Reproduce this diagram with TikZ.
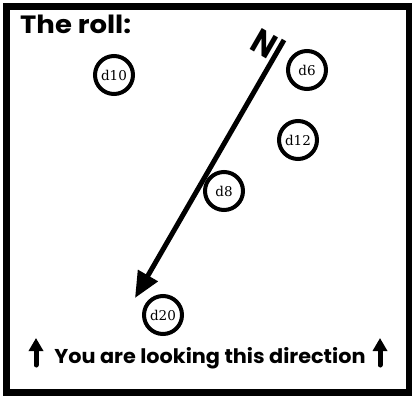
\documentclass[tikz,border=0pt]{standalone}
\usepackage{fontspec}
\setmainfont{DejaVu Serif}
\newfontfamily\comicfont{Poppins}
\usetikzlibrary{arrows.meta}
\begin{document}
\begin{tikzpicture}[x=1pt,y=-1pt,
  die/.style={circle,draw,line width=4pt,minimum size=38pt,inner sep=0pt,font=\fontsize{13.5}{16}\selectfont},
  title/.style={font=\comicfont\bfseries\fontsize{25}{30}\selectfont,inner sep=0pt},
  caption/.style={font=\comicfont\bfseries\fontsize{20}{24}\selectfont,inner sep=0pt},
  bigarrow/.style={line width=5pt,-{Triangle[length=26pt,width=22pt]}},
  lookarrow/.style={line width=5pt,line cap=round,-{Triangle[length=13pt,width=14pt]}}]
\useasboundingbox (0,0) rectangle (412,396);
\draw[line width=6.5pt] (6.5,6.5) rectangle (409.5,392.5);
\node[title,anchor=base west,xscale=1.1] (title) at (20,34) {The roll:};
\node[die] (d10) at (114,75) {d10};
\node[die] (d6) at (307,70) {d6};
\node[die] (d12) at (298,140) {d12};
\node[die] (d8) at (224,191) {d8};
\node[die] (d20) at (163,315) {d20};
\coordinate (ntop) at (284,40);
\coordinate (ntip) at (135,298);
\draw[bigarrow] (ntop) -- (ntip);
\node[inner sep=0pt,rotate=-30,yscale=1.15,font=\comicfont\bfseries\fontsize{30}{34}\selectfont] (north) at (264,44) {N};
\node[caption,anchor=base,xscale=1.04] (cap) at (210,363) {You are looking this direction};
\coordinate (la1) at (36,365);
\coordinate (la2) at (36,338);
\coordinate (lb1) at (380,365);
\coordinate (lb2) at (380,338);
\draw[lookarrow] (la1) -- (la2);
\draw[lookarrow] (lb1) -- (lb2);
\end{tikzpicture}
\end{document}
